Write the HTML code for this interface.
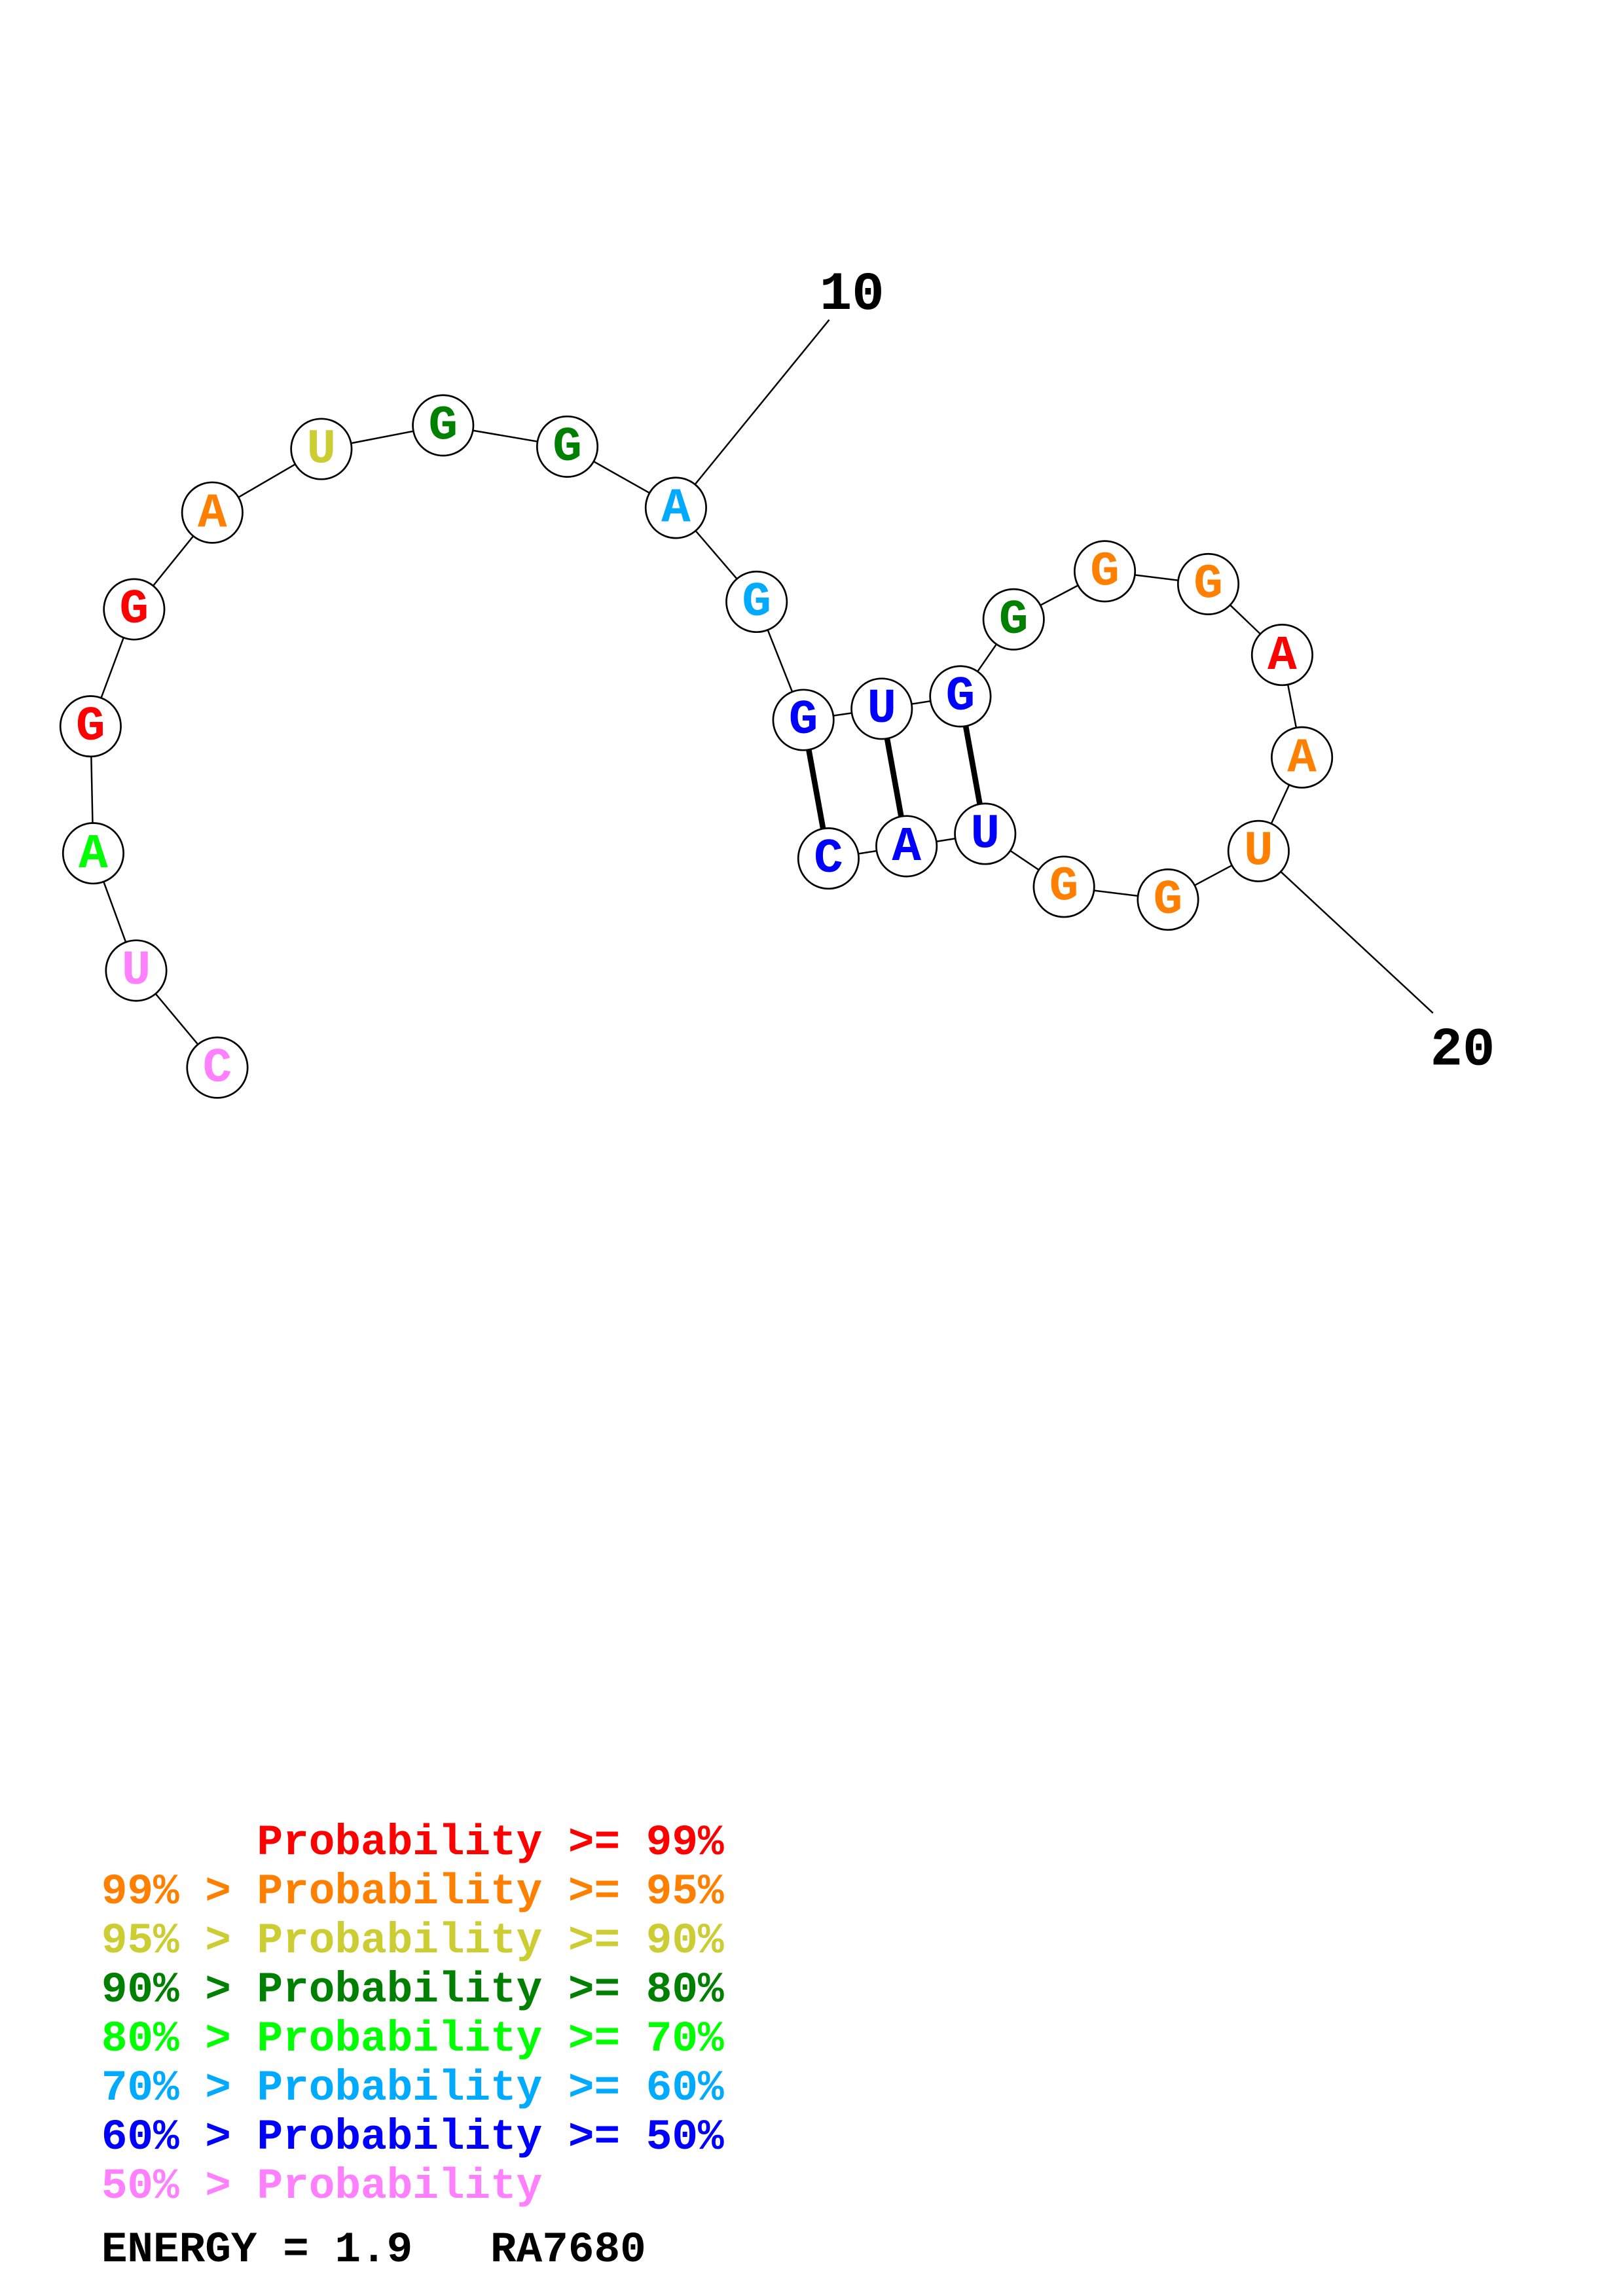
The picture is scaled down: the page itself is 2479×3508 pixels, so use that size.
<!DOCTYPE html>
<html><head><meta charset="utf-8"><style>
html,body{margin:0;padding:0;background:#fff}
svg{display:block}
.n{font-family:"Liberation Mono",monospace;font-weight:bold;font-size:33px;text-anchor:middle}
.l{font-family:"Liberation Mono",monospace;font-weight:bold;font-size:29.3px}
</style></head><body>
<svg width="2479" height="3508" viewBox="0 0 1100 1556.6" preserveAspectRatio="none" xmlns="http://www.w3.org/2000/svg">
<g stroke="#000" stroke-width="1.1" fill="none">
<polyline points="147.3,723.8 92.3,658 63.2,578.5 61.4,492.4 90.9,413.1 143.9,347.5 217.8,304.4 300.3,288.4 384.5,302.8 458.1,344.3 512.8,408 544.5,488.1 597.6,480.5 650.9,472.1 687,419.9 748.8,387.3 818.9,396 869,444 882.4,513.5 853,577 791.6,609.9 721.1,601.2 667.7,565.3 614.4,573.7 561.5,582"/>
<line x1="458.1" y1="344.3" x2="562" y2="216.8"/>
<line x1="853" y1="577" x2="971.2" y2="686.8"/>
</g>
<g stroke="#000" stroke-width="3.8">
<line x1="544.5" y1="488.1" x2="561.5" y2="582"/>
<line x1="597.6" y1="480.5" x2="614.4" y2="573.7"/>
<line x1="650.9" y1="472.1" x2="667.7" y2="565.3"/>
</g>
<g fill="#fff" stroke="#000" stroke-width="1.2">
<circle cx="147.3" cy="723.8" r="20.5"/><circle cx="92.3" cy="658" r="20.5"/><circle cx="63.2" cy="578.5" r="20.5"/><circle cx="61.4" cy="492.4" r="20.5"/><circle cx="90.9" cy="413.1" r="20.5"/><circle cx="143.9" cy="347.5" r="20.5"/><circle cx="217.8" cy="304.4" r="20.5"/><circle cx="300.3" cy="288.4" r="20.5"/><circle cx="384.5" cy="302.8" r="20.5"/><circle cx="458.1" cy="344.3" r="20.5"/><circle cx="512.8" cy="408" r="20.5"/><circle cx="544.5" cy="488.1" r="20.5"/><circle cx="597.6" cy="480.5" r="20.5"/><circle cx="650.9" cy="472.1" r="20.5"/><circle cx="687" cy="419.9" r="20.5"/><circle cx="748.8" cy="387.3" r="20.5"/><circle cx="818.9" cy="396" r="20.5"/><circle cx="869" cy="444" r="20.5"/><circle cx="882.4" cy="513.5" r="20.5"/><circle cx="853" cy="577" r="20.5"/><circle cx="791.6" cy="609.9" r="20.5"/><circle cx="721.1" cy="601.2" r="20.5"/><circle cx="667.7" cy="565.3" r="20.5"/><circle cx="614.4" cy="573.7" r="20.5"/><circle cx="561.5" cy="582" r="20.5"/>
</g>
<g class="n" transform="translate(0,-2)">
<text x="147.3" y="735" fill="#ff80ff">C</text>
<text x="92.3" y="669" fill="#ff80ff">U</text>
<text x="63.2" y="590" fill="#00ff00">A</text>
<text x="61.4" y="503.5" fill="#ff0000">G</text>
<text x="90.9" y="424" fill="#ff0000">G</text>
<text x="143.9" y="359" fill="#ff8000">A</text>
<text x="217.8" y="315.5" fill="#cccc33">U</text>
<text x="300.3" y="299.5" fill="#008000">G</text>
<text x="384.5" y="314" fill="#008000">G</text>
<text x="458.1" y="355.5" fill="#00aaff">A</text>
<text x="512.8" y="419" fill="#00aaff">G</text>
<text x="544.5" y="499" fill="#0000ff">G</text>
<text x="597.6" y="491.5" fill="#0000ff">U</text>
<text x="650.9" y="483" fill="#0000ff">G</text>
<text x="687" y="431" fill="#008000">G</text>
<text x="748.8" y="398.5" fill="#ff8000">G</text>
<text x="818.9" y="407" fill="#ff8000">G</text>
<text x="869" y="455.5" fill="#ff0000">A</text>
<text x="882.4" y="525" fill="#ff8000">A</text>
<text x="853" y="588" fill="#ff8000">U</text>
<text x="791.6" y="621" fill="#ff8000">G</text>
<text x="721.1" y="612" fill="#ff8000">G</text>
<text x="667.7" y="576.5" fill="#0000ff">U</text>
<text x="614.4" y="585" fill="#0000ff">A</text>
<text x="561.5" y="593" fill="#0000ff">C</text>
</g>
<g class="l" fill="#000">
<text x="555.5" y="209.5" style="font-size:36.5px">10</text>
<text x="969.4" y="721.8" style="font-size:36.5px">20</text>
</g>
<g class="l">
<text x="68.7" y="1257" fill="#ff0000" xml:space="preserve">      Probability &gt;= 99%</text>
<text x="68.7" y="1290.3" fill="#ff8000" xml:space="preserve">99% &gt; Probability &gt;= 95%</text>
<text x="68.7" y="1323.6" fill="#cccc33" xml:space="preserve">95% &gt; Probability &gt;= 90%</text>
<text x="68.7" y="1356.9" fill="#008000" xml:space="preserve">90% &gt; Probability &gt;= 80%</text>
<text x="68.7" y="1390.2" fill="#00ff00" xml:space="preserve">80% &gt; Probability &gt;= 70%</text>
<text x="68.7" y="1423.5" fill="#00aaff" xml:space="preserve">70% &gt; Probability &gt;= 60%</text>
<text x="68.7" y="1456.8" fill="#0000ff" xml:space="preserve">60% &gt; Probability &gt;= 50%</text>
<text x="68.7" y="1490" fill="#ff80ff" xml:space="preserve">50% &gt; Probability</text>
<text x="68.7" y="1533" fill="#000" xml:space="preserve">ENERGY = 1.9   RA7680</text>
</g>
</svg>
</body></html>
